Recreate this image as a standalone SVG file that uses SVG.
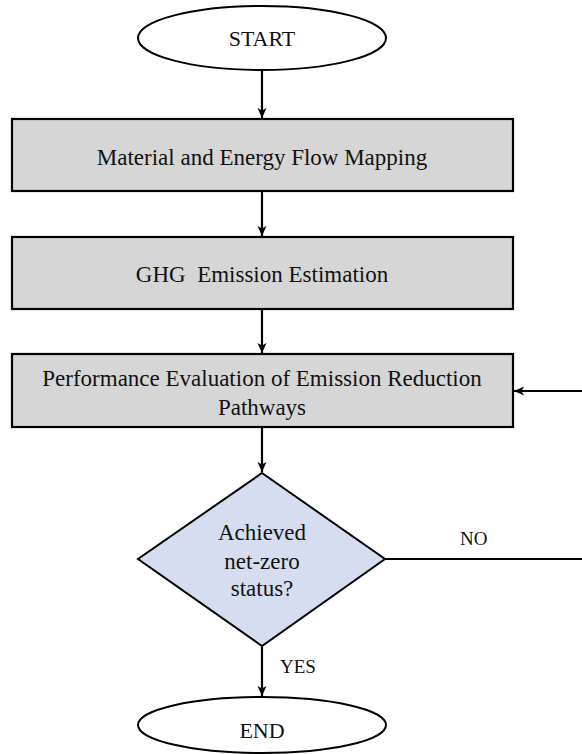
<svg xmlns="http://www.w3.org/2000/svg" width="582" height="754" viewBox="0 0 582 754">
  <style>
    .bg { fill: #ffffff; }
    .term { fill: #ffffff; stroke: #000000; stroke-width: 2; }
    .proc { fill: #d6d6d6; stroke: #000000; stroke-width: 2.2; }
    .dec { fill: #d6ddf0; stroke: #000000; stroke-width: 2; }
    .edge { fill: none; stroke: #000000; stroke-width: 2.2; }
    text { font-family: "Liberation Serif", "Times New Roman", serif; fill: #111111; }
    .name { font-size: 23px; text-anchor: middle; }
    .term-name { font-size: 22px; text-anchor: middle; }
    .small { font-size: 19px; }
  </style>
  <defs>
    <marker id="arrow" viewBox="0 0 10 10" refX="10" refY="5" markerWidth="10" markerHeight="10" markerUnits="userSpaceOnUse" orient="auto">
      <path d="M0,0.5 L10,5 L0,9.5 L2.5,5 z" fill="#000000"/>
    </marker>
  </defs>

  <rect class="bg" x="0" y="0" width="582" height="754"/>

  <g id="connectors">
    <line class="edge" x1="262" y1="70" x2="262" y2="118" marker-end="url(#arrow)"/>
    <line class="edge" x1="262" y1="191" x2="262" y2="236" marker-end="url(#arrow)"/>
    <line class="edge" x1="262" y1="309" x2="262" y2="353" marker-end="url(#arrow)"/>
    <line class="edge" x1="262" y1="427" x2="262" y2="472" marker-end="url(#arrow)"/>
    <line class="edge" x1="262" y1="647" x2="262" y2="696" marker-end="url(#arrow)"/>
    <line class="edge" x1="385" y1="559" x2="582" y2="559"/>
    <line class="edge" x1="582" y1="391" x2="514" y2="391" marker-end="url(#arrow)"/>
    <text class="small" x="460" y="545" font-family="Liberation Serif, serif">NO</text>
    <text class="small" x="280" y="673" font-family="Liberation Serif, serif">YES</text>
  </g>

  <g id="start" font-family="Liberation Serif, serif">
    <ellipse class="term" cx="262" cy="38" rx="124" ry="32"/>
    <text class="term-name" x="262" y="46">START</text>
  </g>

  <g id="flow-mapping" font-family="Liberation Serif, serif">
    <rect class="proc" x="12" y="119" width="501" height="72"/>
    <text class="name" x="262" y="165">Material and Energy Flow Mapping</text>
  </g>

  <g id="ghg-estimation" font-family="Liberation Serif, serif">
    <rect class="proc" x="12" y="237" width="501" height="72"/>
    <text class="name" x="262" y="282" xml:space="preserve">GHG  Emission Estimation</text>
  </g>

  <g id="pathway-evaluation" font-family="Liberation Serif, serif">
    <rect class="proc" x="12" y="354" width="501" height="73"/>
    <text class="name" x="262" y="386">Performance Evaluation of Emission Reduction</text>
    <text class="name" x="262" y="415">Pathways</text>
  </g>

  <g id="net-zero-check" font-family="Liberation Serif, serif">
    <polygon class="dec" points="262,473 385,559 262,646 138,559"/>
    <text class="name" x="262" y="540">Achieved</text>
    <text class="name" x="262" y="569">net-zero</text>
    <text class="name" x="262" y="596">status?</text>
  </g>

  <g id="end" font-family="Liberation Serif, serif">
    <ellipse class="term" cx="262" cy="725" rx="124" ry="28"/>
    <text class="term-name" x="262" y="738">END</text>
  </g>
</svg>
